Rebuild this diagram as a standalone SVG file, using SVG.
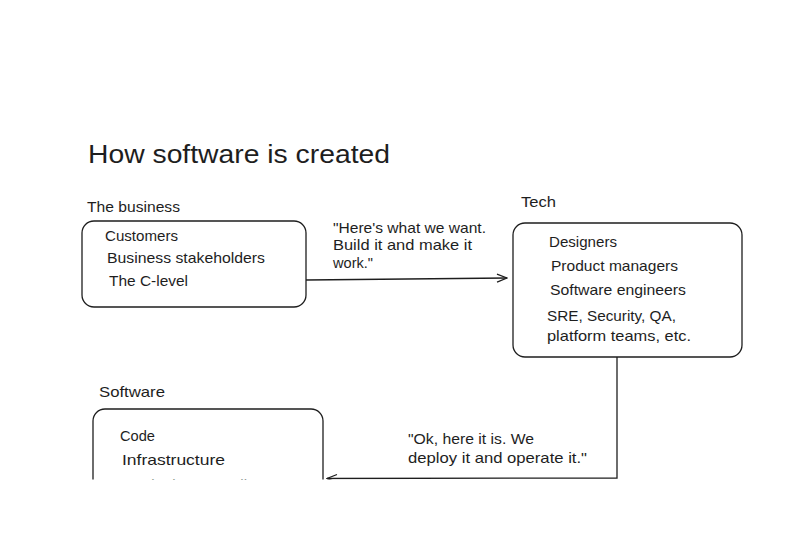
<svg xmlns="http://www.w3.org/2000/svg" width="800" height="560" viewBox="0 0 800 560">
<style>
  text { font-family: "Liberation Sans", Arial, sans-serif; fill: #1e1e1e; }
  .t { font-size: 15px; }
  .title { font-size: 26px; }
  .box { fill: none; stroke: #1e1e1e; stroke-width: 1.3; }
  .wire { fill: none; stroke: #1e1e1e; stroke-width: 1.3; }
</style>
<defs>
  <marker id="arrow" viewBox="0 0 12 12" refX="11" refY="6" markerWidth="12" markerHeight="12" markerUnits="userSpaceOnUse" orient="auto">
    <path d="M1,2 L11,6 L1,10" fill="none" stroke="#1e1e1e" stroke-width="1.3"/>
  </marker>
  <clipPath id="crop"><rect x="0" y="0" width="800" height="479.5"/></clipPath>
</defs>
<rect width="800" height="560" fill="#ffffff"/>
<g clip-path="url(#crop)">
  <text class="title" x="88" y="163" textLength="302" lengthAdjust="spacingAndGlyphs">How software is created</text>

  <g id="business">
    <text class="t" x="87" y="212" textLength="93" lengthAdjust="spacingAndGlyphs">The business</text>
    <rect class="box" x="82" y="221" width="224" height="86" rx="12"/>
    <text class="t" x="105" y="241" textLength="73" lengthAdjust="spacingAndGlyphs">Customers</text>
    <text class="t" x="107" y="263" textLength="158" lengthAdjust="spacingAndGlyphs">Business stakeholders</text>
    <text class="t" x="109" y="286" textLength="79" lengthAdjust="spacingAndGlyphs">The C-level</text>
  </g>

  <g id="tech">
    <text class="t" x="521" y="207" textLength="35" lengthAdjust="spacingAndGlyphs">Tech</text>
    <rect class="box" x="513" y="223" width="229" height="134" rx="12"/>
    <text class="t" x="549" y="247" textLength="68" lengthAdjust="spacingAndGlyphs">Designers</text>
    <text class="t" x="551" y="271" textLength="127" lengthAdjust="spacingAndGlyphs">Product managers</text>
    <text class="t" x="550" y="295" textLength="136" lengthAdjust="spacingAndGlyphs">Software engineers</text>
    <text class="t" x="547" y="321" textLength="129" lengthAdjust="spacingAndGlyphs">SRE, Security, QA,</text>
    <text class="t" x="547" y="341" textLength="144" lengthAdjust="spacingAndGlyphs">platform teams, etc.</text>
  </g>

  <g id="software">
    <text class="t" x="99" y="397" textLength="66" lengthAdjust="spacingAndGlyphs">Software</text>
    <rect class="box" x="93" y="409" width="230" height="140" rx="12"/>
    <text class="t" x="120" y="441" textLength="35" lengthAdjust="spacingAndGlyphs">Code</text>
    <text class="t" x="122" y="465" textLength="103" lengthAdjust="spacingAndGlyphs">Infrastructure</text>
    <text class="t" x="122" y="490" textLength="125" lengthAdjust="spacingAndGlyphs">Monitoring, as well</text>
  </g>

  <g id="connectors">
    <path class="wire" d="M306,280 L507,278" marker-end="url(#arrow)"/>
    <text class="t" x="333" y="233" textLength="153" lengthAdjust="spacingAndGlyphs">"Here's what we want.</text>
    <text class="t" x="333" y="250" textLength="139" lengthAdjust="spacingAndGlyphs">Build it and make it</text>
    <text class="t" x="333" y="268" textLength="40" lengthAdjust="spacingAndGlyphs">work."</text>

    <path class="wire" d="M617,357 L617,478 L327,478.5" marker-end="url(#arrow)"/>
    <text class="t" x="408" y="444" textLength="126" lengthAdjust="spacingAndGlyphs">"Ok, here it is. We</text>
    <text class="t" x="408" y="463" textLength="179" lengthAdjust="spacingAndGlyphs">deploy it and operate it."</text>
  </g>
</g>
</svg>
